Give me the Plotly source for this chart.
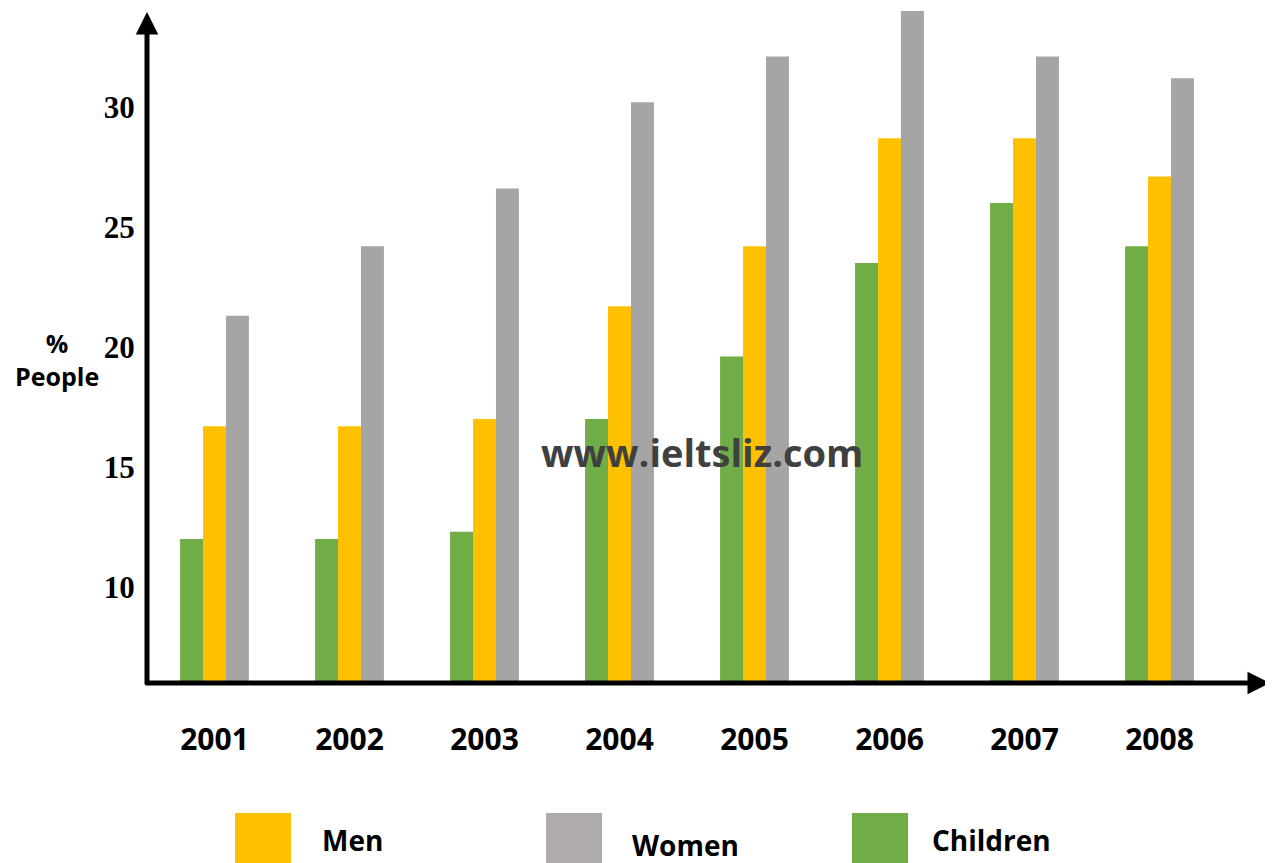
import plotly.graph_objects as go

years = ["2001", "2002", "2003", "2004", "2005", "2006", "2007", "2008"]
children = [12.0, 12.0, 12.3, 17.0, 19.6, 23.5, 26.0, 24.2]
men = [16.7, 16.7, 17.0, 21.7, 24.2, 28.7, 28.7, 27.1]
women = [21.3, 24.2, 26.6, 30.2, 32.1, 34.0, 32.1, 31.2]
y_ticks = [10, 15, 20, 25, 30]

series_names = ["Children", "Men", "Women"]
bar_colors = {"Children": "#70AD47", "Men": "#FFC000", "Women": "#A5A5A5"}
legend_colors = {"Men": "#FFC000", "Women": "#AEABAA", "Children": "#70AD47"}

fig = go.Figure()
for name, vals in zip(series_names, [children, men, women]):
    fig.add_trace(go.Bar(x=years, y=vals, name=name, marker_color=bar_colors[name],
                         marker_line_width=0, showlegend=False))

OFF = 8  # page offset of the figure
W, H = 1265, 855
L, R, T, B = 139, 46, 0, 180
pw, ph = W - L - R, H - T - B

def px(x):
    return (x - OFF - L) / pw

def py(y):
    return (H - B - (y - OFF)) / ph

fig.update_layout(
    width=W, height=H,
    margin=dict(l=L, r=R, t=T, b=B),
    paper_bgcolor="white", plot_bgcolor="white",
    barmode="group", bargap=0.49, bargroupgap=0,
    xaxis=dict(type="category", showgrid=False, showline=False, zeroline=False,
               ticks="outside", ticklen=30, tickcolor="rgba(0,0,0,0)",
               tickfont=dict(family="Open Sans", size=30, color="black", weight="bold")),
    yaxis=dict(range=[6, 34.125], tickvals=y_ticks, showgrid=False, showline=False,
               zeroline=False, ticks="outside", ticklen=5, tickcolor="rgba(0,0,0,0)",
               tickfont=dict(family="Liberation Serif", size=31, color="black", weight="bold")),
)

# axis arrows
fig.add_annotation(x=0, y=py(12), xref="paper", yref="paper", ax=0, ay=674,
                   axref="pixel", ayref="pixel", showarrow=True, arrowhead=2,
                   arrowwidth=5, arrowsize=0.9, arrowcolor="black", text="")
fig.add_annotation(x=px(1270), y=0, xref="paper", yref="paper", ax=-1126, ay=0,
                   axref="pixel", ayref="pixel", showarrow=True, arrowhead=2,
                   arrowwidth=5, arrowsize=0.9, arrowcolor="black", text="")

# y axis title
fig.add_annotation(x=px(57), y=py(360), xref="paper", yref="paper", showarrow=False,
                   text="%<br>People", align="center", xanchor="center", yanchor="middle",
                   font=dict(family="Open Sans", size=25, color="black", weight="bold"))

# watermark
fig.add_annotation(x=px(702), y=py(452), xref="paper", yref="paper", showarrow=False,
                   text="www.ieltsliz.com", xanchor="center", yanchor="middle",
                   font=dict(family="Open Sans", size=38, color="#404040", weight="bold"))

# custom legend
legend_order = ["Men", "Women", "Children"]
sq_left = {"Men": 235, "Women": 546, "Children": 852}
txt_left = {"Men": 320, "Women": 630, "Children": 930}
txt_y = {"Men": 840, "Women": 845, "Children": 840}
for name in legend_order:
    x0 = sq_left[name]
    fig.add_shape(type="rect", xref="paper", yref="paper",
                  x0=px(x0), x1=px(x0 + 56), y0=py(813), y1=py(875),
                  fillcolor=legend_colors[name], line_width=0)
    fig.add_annotation(x=px(txt_left[name]), y=py(txt_y[name]), xref="paper", yref="paper",
                       showarrow=False, text=name, xanchor="left", yanchor="middle",
                       font=dict(family="Open Sans", size=28, color="black", weight="bold"))

fig.write_html("out.html")
